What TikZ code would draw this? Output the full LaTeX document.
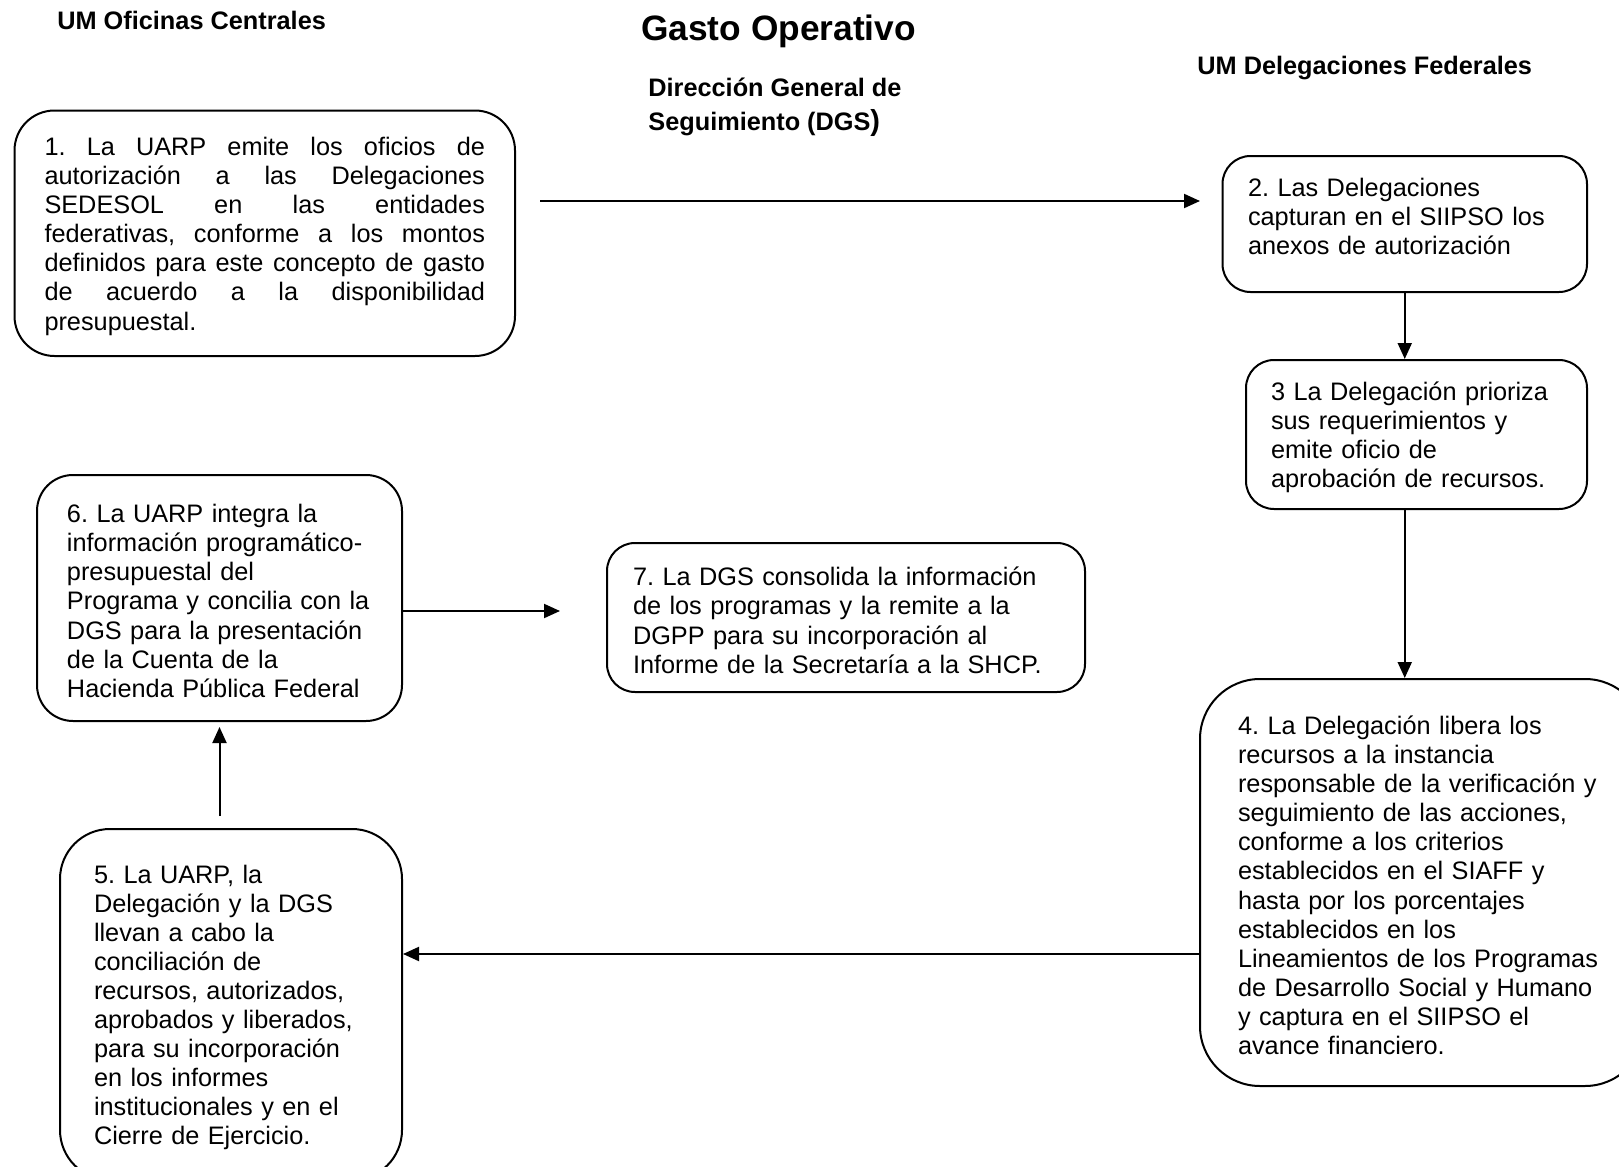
\documentclass[tikz,border=0pt]{standalone}
\usepackage{fontspec}
\setmainfont{Liberation Sans}
\usetikzlibrary{arrows.meta}
\frenchspacing

\newcommand\bodyfont{\fontsize{12.65pt}{14.55pt}\selectfont\frenchspacing}
\newcommand\headfont{\fontsize{12.65pt}{14.55pt}\selectfont\bfseries}
% a little extra room above the first line of each step text
\newcommand\firstline{\rule{0pt}{12.1pt}}

\tikzset{
  stepbox/.style={draw=black, line width=1pt, fill=white, align=left,
    inner ysep=0pt, font=\bodyfont},
  arr/.style={draw=black, line width=1pt, -{Triangle[length=8pt,width=7pt]}},
  heading/.style={anchor=base west, inner sep=0pt, font=\headfont},
}

\begin{document}
\begin{tikzpicture}[x=0.5pt, y=-0.5pt]
\useasboundingbox (0,0) rectangle (1619,1167);
\clip (0,0) rectangle (1619,1167);
\fill[white] (0,0) rectangle (1619,1167);

% column headings and title
\node[anchor=base, inner sep=0pt, font=\fontsize{17.65pt}{20pt}\selectfont\bfseries] (title) at (778.5,40.6) {Gasto Operativo};
\node[heading] (hcentral) at (57,30) {UM Oficinas Centrales};
\node[heading] (hdgs1) at (648,97) {Dirección General de};
\node[heading] (hdgs2) at (648,130) {Seguimiento (DGS{\fontsize{14.5pt}{15pt}\selectfont )}};
\node[heading] (hdeleg) at (1197,74) {UM Delegaciones Federales};

% process steps
\node[stepbox, rounded corners=20pt, minimum width=250.25pt, minimum height=122.75pt,
      inner xsep=15pt, text width=220.25pt, align=justify] (b1) at (264.75,233.25)
  {\firstline 1. La UARP emite los oficios de\linebreak autorización a las Delegaciones\linebreak
   SEDESOL en las entidades\linebreak federativas, conforme a los montos\linebreak
   definidos para este concepto de gasto\linebreak de acuerdo a la disponibilidad\linebreak
   presupuestal.};

\node[stepbox, rounded corners=14pt, minimum width=182.25pt, minimum height=68pt,
      inner xsep=12.75pt, text width=156.75pt] (b2) at (1404.75,224)
  {\firstline 2. Las Delegaciones\\capturan en el SIIPSO los\\anexos de autorización\\[-3.55pt]\mbox{}};

\node[stepbox, rounded corners=14pt, minimum width=170.5pt, minimum height=74.5pt,
      inner xsep=12.5pt, text width=145.5pt] (b3) at (1416.5,434.5)
  {\firstline 3 La Delegación prioriza\\sus requerimientos y\\emite oficio de\\aprobación de recursos.};

\node[stepbox, rounded corners=30pt, minimum width=222.5pt, minimum height=203.5pt,
      inner xsep=19pt, text width=184.5pt] (b4) at (1422.5,882.5)
  {\firstline 4. La Delegación libera los\\recursos a la instancia\\responsable de la verificación y\\
   seguimiento de las acciones,\\conforme a los criterios\\establecidos en el SIAFF y\\
   hasta por los porcentajes\\establecidos en los\\Lineamientos de los Programas\\
   de Desarrollo Social y Humano\\y captura en el SIIPSO el\\avance financiero.};

\node[stepbox, rounded corners=25pt, minimum width=171pt, minimum height=175.5pt,
      inner xsep=17pt, text width=137pt] (b5) at (231,1004.5)
  {\firstline 5. La UARP, la\\Delegación y la DGS\\llevan a cabo la\\conciliación de\\
   recursos, autorizados,\\aprobados y liberados,\\para su incorporación\\
   en los informes\\institucionales y en el\\Cierre de Ejercicio.};

\node[stepbox, rounded corners=18pt, minimum width=182.5pt, minimum height=123pt,
      inner xsep=15pt, text width=152.5pt] (b6) at (219.5,598)
  {\firstline 6. La UARP integra la\\información programático-\\presupuestal del\\
   Programa y concilia con la\\DGS para la presentación\\de la Cuenta de la\\
   Hacienda Pública Federal};

\node[stepbox, rounded corners=14pt, minimum width=239pt, minimum height=74.5pt,
      inner xsep=13pt, text width=213pt] (b7) at (846,617.5)
  {\firstline 7. La DGS consolida la información\\de los programas y la remite a la\\
   DGPP para su incorporación al\\Informe de la Secretaría a la SHCP.};

% connector heights
\coordinate (y12) at (0,201);
\coordinate (y45) at (0,954);
\coordinate (y67) at (0,611);

% connectors
\draw[arr, shorten <=12pt, shorten >=10.75pt] (b1.east |- y12) -- (b2.west |- y12);
\draw[arr] (b2.south) -- (b2.south |- b3.north);
\draw[arr] (b2.south |- b3.south) -- (b2.south |- b4.north);
\draw[arr] (b4.west |- y45) -- (b5.east |- y45);
\draw[arr, shorten <=6pt, shorten >=2.5pt] (b6.south |- b5.north) -- (b6.south);
\draw[arr, shorten >=23pt] (b6.east |- y67) -- (b7.west |- y67);
\end{tikzpicture}
\end{document}
